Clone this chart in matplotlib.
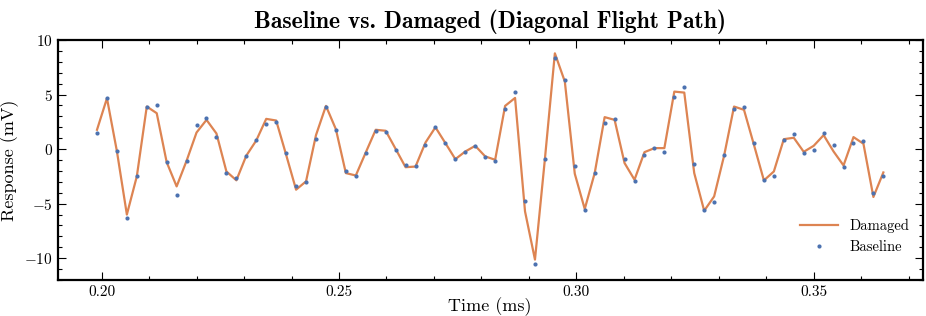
import numpy as np
import matplotlib
matplotlib.use("Agg")
import matplotlib.pyplot as plt
from matplotlib.ticker import MultipleLocator

# sample times (ms), evenly spaced acquisition
time_ms = np.linspace(0.1990, 0.3647, 80)

baseline = [
    1.52, 4.72, -0.22, -6.35, -2.50, 3.90, 4.05, -1.22, -4.18, -1.07,
    2.19, 2.83, 1.12, -2.20, -2.69, -0.61, 0.79, 2.31, 2.50, -0.40,
    -3.42, -3.02, 0.97, 3.90, 1.79, -2.05, -2.50, -0.37, 1.70, 1.58,
    -0.09, -1.50, -1.53, 0.37, 2.01, 0.55, -0.92, -0.31, 0.24, -0.70,
    -1.10, 3.69, 5.24, -4.79, -10.52, -0.89, 8.38, 6.37, -1.53, -5.58,
    -2.20, 2.41, 2.74, -0.89, -2.96, -0.58, 0.09, -0.31, 4.76, 5.70,
    -1.34, -5.62, -4.85, -0.58, 3.72, 3.90, 0.55, -2.87, -2.47, 0.85,
    1.37, -0.37, -0.12, 1.52, 0.39, -1.68, 0.58, 0.73, -4.03, -2.47,
]

damaged = [
    1.77, 4.66, -0.20, -6.00, -2.50, 3.90, 3.29, -1.20, -3.42, -1.07,
    1.52, 2.68, 1.43, -2.05, -2.86, -0.60, 0.79, 2.77, 2.62, -0.52,
    -3.72, -2.96, 1.28, 3.96, 1.82, -2.20, -2.42, -0.31, 1.77, 1.68,
    0.02, -1.66, -1.60, 0.60, 2.00, 0.55, -0.92, -0.22, 0.30, -0.67,
    -0.98, 3.96, 4.69, -5.71, -10.13, -0.89, 8.78, 6.19, -2.26, -5.49,
    -2.20, 2.93, 2.68, -1.28, -2.81, -0.28, 0.09, 0.09, 5.27, 5.18,
    -2.20, -5.65, -4.34, -0.61, 3.90, 3.60, 0.39, -2.87, -2.05, 0.91,
    1.04, -0.25, 0.30, 1.28, -0.22, -1.50, 1.10, 0.49, -4.39, -2.14,
]

plt.rcParams["font.family"] = "cmr10"
plt.rcParams["mathtext.fontset"] = "cm"
plt.rcParams["axes.formatter.use_mathtext"] = True

fig = plt.figure(figsize=(9.26, 3.16), dpi=100)
ax = fig.add_axes([0.0623, 0.1139, 0.9341, 0.7595])

ax.plot(time_ms, damaged, color="#DD8452", lw=1.6, label="Damaged")
ax.plot(time_ms, baseline, ls="none", marker="o", ms=3, color="#4C72B0",
        mec="none", label="Baseline")

ax.set_ylim(-12, 10)
ax.xaxis.set_major_locator(MultipleLocator(0.05))
ax.xaxis.set_minor_locator(MultipleLocator(0.01))
ax.yaxis.set_major_locator(MultipleLocator(5))
ax.yaxis.set_minor_locator(MultipleLocator(1))
ax.xaxis.set_major_formatter(plt.FuncFormatter(lambda v, p: f"{v:.2f}"))

ax.tick_params(which="both", direction="in", top=True, right=True, labelsize=11)
ax.tick_params(which="major", length=6, width=0.8)
ax.tick_params(which="minor", length=3, width=0.8)
for s in ax.spines.values():
    s.set_linewidth(1.6)

ax.set_xlabel("Time (ms)", fontsize=13, labelpad=-1)
ax.set_ylabel("Response (mV)", fontsize=13, labelpad=4)
ax.set_title("Baseline vs. Damaged (Diagonal Flight Path)", fontsize=17,
             fontfamily="cmb10", pad=9)

ax.legend(loc="lower right", bbox_to_anchor=(1.0, 0.055), frameon=False,
          fontsize=10.5, handlelength=2.6, labelspacing=0.45)

fig.savefig("out.png", dpi=100)
